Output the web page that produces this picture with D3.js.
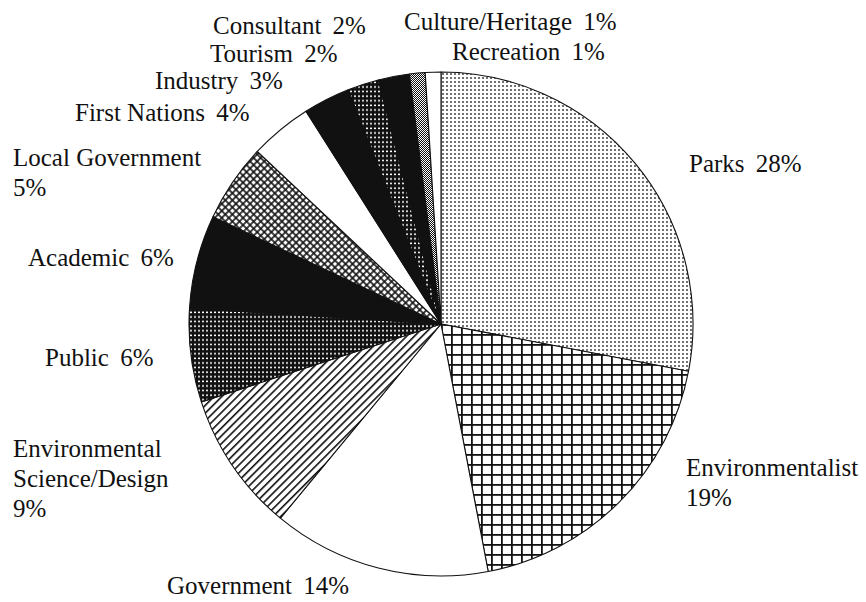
<!DOCTYPE html>
<html>
<head>
<meta charset="utf-8">
<script src="https://cdn.jsdelivr.net/npm/d3@7"></script>
<style>
  body { margin: 0; background: #fff; }
  text { font-family: "Liberation Serif", "Times New Roman", serif; font-size: 25px; fill: #111; }
</style>
</head>
<body>
<svg id="chart"></svg>
<script>
// categories clockwise from 12 o'clock, with their shares in percent
const categories = ["Parks", "Environmentalist", "Government", "Environmental Science/Design",
    "Public", "Academic", "Local Government", "First Nations", "Industry", "Tourism",
    "Consultant", "Culture/Heritage", "Recreation"];
const shares = [28, 19, 14, 9, 6, 6, 5, 4, 3, 2, 2, 1, 1];

// fill used for each slice (pattern ids defined below)
const fills = ["dots", "grid", "white", "diag", "darkgrid", "black", "diamond",
    "white", "black", "darkgrid", "black", "checker", "white"];

// where each label sits (left x, first baseline) and how it is broken into lines
const labelLayout = [
    {x: 689, y: 172, mode: "inline"},
    {x: 686, y: 476, mode: "stack"},
    {x: 167, y: 594, mode: "inline"},
    {x: 13, y: 457, mode: "stack3"},
    {x: 45, y: 366, mode: "inline"},
    {x: 28, y: 266, mode: "inline"},
    {x: 13, y: 166, mode: "stack"},
    {x: 75, y: 121, mode: "inline"},
    {x: 155, y: 89, mode: "inline"},
    {x: 210, y: 62, mode: "inline"},
    {x: 213, y: 34, mode: "inline"},
    {x: 404, y: 30, mode: "inline"},
    {x: 452, y: 60, mode: "inline"}
];

const width = 866, height = 602;
const cx = 441, cy = 324, radius = 252;

const svg = d3.select("#chart")
    .attr("width", width)
    .attr("height", height);

// PATTERNS
const defs = svg.append("defs");

let p = defs.append("pattern").attr("id", "dots")
    .attr("patternUnits", "userSpaceOnUse").attr("width", 4).attr("height", 4);
p.append("rect").attr("width", 4).attr("height", 4).attr("fill", "#fff");
p.append("rect").attr("x", 1.2).attr("y", 1.2).attr("width", 1.6).attr("height", 1.6).attr("fill", "#222");

p = defs.append("pattern").attr("id", "grid")
    .attr("patternUnits", "userSpaceOnUse").attr("width", 10).attr("height", 10);
p.append("rect").attr("width", 10).attr("height", 10).attr("fill", "#fff");
p.append("rect").attr("width", 1.8).attr("height", 10).attr("fill", "#111");
p.append("rect").attr("width", 10).attr("height", 1.8).attr("fill", "#111");

p = defs.append("pattern").attr("id", "diag")
    .attr("patternUnits", "userSpaceOnUse").attr("width", 5.5).attr("height", 5.5)
    .attr("patternTransform", "rotate(45)");
p.append("rect").attr("width", 5.5).attr("height", 5.5).attr("fill", "#fff");
p.append("rect").attr("width", 1.6).attr("height", 5.5).attr("fill", "#111");

p = defs.append("pattern").attr("id", "darkgrid")
    .attr("patternUnits", "userSpaceOnUse").attr("width", 4).attr("height", 4.6);
p.append("rect").attr("width", 4).attr("height", 4.6).attr("fill", "#111");
p.append("rect").attr("x", 1).attr("y", 1.4).attr("width", 2).attr("height", 1.5).attr("fill", "#fff");

p = defs.append("pattern").attr("id", "diamond")
    .attr("patternUnits", "userSpaceOnUse").attr("width", 5).attr("height", 5)
    .attr("patternTransform", "rotate(45)");
p.append("rect").attr("width", 5).attr("height", 5).attr("fill", "#111");
p.append("rect").attr("x", 0.8).attr("y", 0.8).attr("width", 3.4).attr("height", 3.4).attr("fill", "#fff");

p = defs.append("pattern").attr("id", "checker")
    .attr("patternUnits", "userSpaceOnUse").attr("width", 2).attr("height", 2);
p.append("rect").attr("width", 2).attr("height", 2).attr("fill", "#fff");
p.append("rect").attr("width", 1).attr("height", 1).attr("fill", "#111");
p.append("rect").attr("x", 1).attr("y", 1).attr("width", 1).attr("height", 1).attr("fill", "#111");

const fillOf = f => f === "white" ? "#fff" : f === "black" ? "#111" : `url(#${f})`;

// PIE
const pie = d3.pie().sort(null).value(d => d);
const arc = d3.arc().innerRadius(0).outerRadius(radius);

const slices = pie(shares).map((d, i) => ({...d, name: categories[i], fill: fills[i]}));

svg.append("g")
    .attr("transform", `translate(${cx},${cy})`)
    .selectAll("path")
    .data(slices)
    .join("path")
    .attr("d", arc)
    .attr("fill", d => fillOf(d.fill))
    .attr("stroke", "#111")
    .attr("stroke-width", 1.1)
    .attr("stroke-linejoin", "round");

// LABELS
const labels = svg.append("g");
slices.forEach((d, i) => {
    const lay = labelLayout[i];
    const pct = `${d.value}%`;
    const t = labels.append("text").attr("x", lay.x).attr("y", lay.y);
    if (lay.mode === "inline") {
        t.append("tspan").text(d.name + " ");
        t.append("tspan").attr("dx", 5).text(pct);
    } else {
        let lines = [d.name, pct];
        if (lay.mode === "stack3") {
            const k = d.name.indexOf(" ");
            lines = [d.name.slice(0, k), d.name.slice(k + 1), pct];
        }
        lines.forEach((s, j) => {
            t.append("tspan").attr("x", lay.x).attr("y", lay.y + j * 30).text(s);
        });
    }
});
</script>
</body>
</html>
